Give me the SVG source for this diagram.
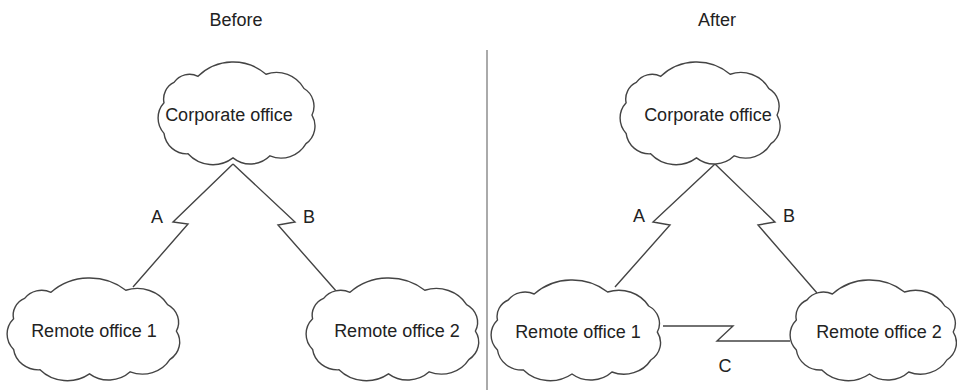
<svg xmlns="http://www.w3.org/2000/svg" xmlns:xlink="http://www.w3.org/1999/xlink" width="957" height="390" viewBox="0 0 957 390">
<style>
.cloud{fill:#fff;stroke:#444;stroke-width:1.4;vector-effect:non-scaling-stroke}
.lnk{fill:none;stroke:#444;stroke-width:1.4;stroke-linejoin:miter}
text{font-family:"Liberation Sans",Arial,sans-serif;font-size:18px;fill:#222;text-anchor:middle}
.div{stroke:#aaa;stroke-width:2}
</style>
<defs>
<path id="cloud" class="cloud" d="M6,40 A18,18 0 0 1 16,20 A19,19 0 0 1 40,14 A51,51 0 0 1 108,12 A32,32 0 0 1 146,26 A20,20 0 0 1 154,52 A21,21 0 0 1 148,80 A29,29 0 0 1 112,92 A28,28 0 0 1 75,94 A34,34 0 0 1 30,90 A23,23 0 0 1 6,70 A22,22 0 0 1 6,40 Z"/>
</defs>
<rect width="957" height="390" fill="#fff"/>
<line class="div" x1="487" y1="50" x2="487" y2="390"/>
<text x="236" y="26">Before</text>
<text x="717" y="26">After</text>
<g id="connectors">
<polyline class="lnk" points="233,164 173,222 188,224 133,287"/>
<polyline class="lnk" points="233,164 295,222 278,225 337,292"/>
<polyline class="lnk" points="715,164 653,222 670,225 615,287"/>
<polyline class="lnk" points="715,164 775,222 758,225 817,293"/>
<polyline class="lnk" points="663,326 733,326 717,341 790,341"/>
<text x="157" y="223">A</text>
<text x="309" y="223">B</text>
<text x="639" y="222">A</text>
<text x="789" y="222">B</text>
<text x="725" y="372">C</text>
</g>
<g id="corp-before">
<use xlink:href="#cloud" transform="translate(158,62) scale(1,1.02)"/>
<text x="229" y="121">Corporate office</text>
</g>
<g id="remote1-before">
<use xlink:href="#cloud" transform="translate(7,278) scale(1.1,1.02)"/>
<text x="94" y="337">Remote office 1</text>
</g>
<g id="remote2-before">
<use xlink:href="#cloud" transform="translate(306,278) scale(1.1,1.02)"/>
<text x="397" y="337">Remote office 2</text>
</g>
<g id="corp-after">
<use xlink:href="#cloud" transform="translate(620,62) scale(1.02,1.02)"/>
<text x="708" y="121">Corporate office</text>
</g>
<g id="remote1-after">
<use xlink:href="#cloud" transform="translate(491,280) scale(1.08,1)"/>
<text x="578" y="338">Remote office 1</text>
</g>
<g id="remote2-after">
<use xlink:href="#cloud" transform="translate(790,280) scale(1.06,1)"/>
<text x="879" y="338">Remote office 2</text>
</g>
</svg>
